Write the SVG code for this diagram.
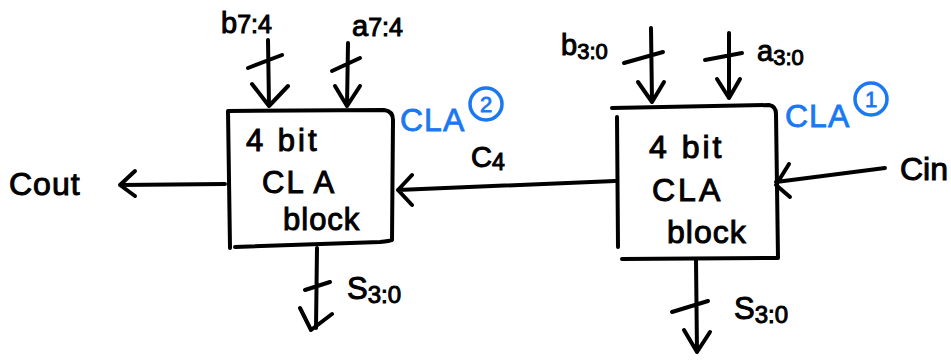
<svg xmlns="http://www.w3.org/2000/svg" width="951" height="360" viewBox="0 0 951 360">
<style>
.ln{fill:none;stroke:#000;stroke-width:4;stroke-linecap:round;stroke-linejoin:round}
.t{font-family:"Liberation Sans","DejaVu Sans",sans-serif;fill:#000;stroke:#000;stroke-width:1}
.b{font-family:"Liberation Sans","DejaVu Sans",sans-serif;fill:#1a78f2;stroke:#1a78f2;stroke-width:0.8}
.bc{fill:none;stroke:#1a78f2;stroke-width:3.5}
</style>
<rect width="951" height="360" fill="#fff"/>
<g id="cla2">
<path class="ln" d="M228,111 L384,110 Q393,111 393,120 L392,240 Q390,241 380,242 L235,247 M228,111 L230,248"/>
<text class="t" x="246" y="151" font-size="31" letter-spacing="3">4 bit</text>
<text class="t" x="262" y="193" font-size="31" letter-spacing="2">CL A</text>
<text class="t" x="283" y="230" font-size="31" letter-spacing="1">block</text>
<text class="b" x="400" y="131" font-size="32" letter-spacing="1">CLA</text>
<circle class="bc" cx="486" cy="104" r="16"/>
<text class="b" x="486" y="112" font-size="22" text-anchor="middle">2</text>
</g>
<g id="cla1">
<path class="ln" d="M612,108 L769,105 Q776,106 776,114 L778,258 L622,259 M617,117 L618,247"/>
<text class="t" x="649" y="158" font-size="32" letter-spacing="3">4 bit</text>
<text class="t" x="652" y="201" font-size="32" letter-spacing="3">CLA</text>
<text class="t" x="667" y="243" font-size="32" letter-spacing="1">block</text>
<text class="b" x="785" y="127" font-size="32" letter-spacing="1">CLA</text>
<circle class="bc" cx="871" cy="99" r="16"/>
<text class="b" x="871" y="107" font-size="22" text-anchor="middle">1</text>
</g>
<g id="labels">
<text class="t" x="221" y="33" font-size="29">b<tspan font-size="25">7:4</tspan></text>
<text class="t" x="352" y="36" font-size="29">a<tspan font-size="25">7:4</tspan></text>
<text class="t" x="561" y="55" font-size="29">b<tspan font-size="22" dy="4">3:0</tspan></text>
<text class="t" x="757" y="61" font-size="29">a<tspan font-size="22" dy="4">3:0</tspan></text>
<text class="t" x="9" y="195" font-size="32" letter-spacing="1">Cout</text>
<text class="t" x="471" y="167" font-size="29">C<tspan font-size="23" dy="3">4</tspan></text>
<text class="t" x="900" y="180" font-size="32">Cin</text>
<text class="t" x="347" y="299" font-size="31">S<tspan font-size="24" dy="4">3:0</tspan></text>
<text class="t" x="734" y="319" font-size="31">S<tspan font-size="24" dy="4">3:0</tspan></text>
</g>
<g id="connectors">
<path class="ln" d="M268,40 L269,106 M252,84 L269,106 L288,86 M248,68 L282,55"/>
<path class="ln" d="M348,43 L347,106 M335,86 L347,106 L360,86 M332,71 L360,58"/>
<path class="ln" d="M651,28 L652,102 M638,82 L652,102 L664,82 M624,63 L663,52"/>
<path class="ln" d="M729,33 L729,98 M717,79 L729,98 L740,79 M705,60 L742,53"/>
<path class="ln" d="M225,184 L120,185 M135,171 L120,185 L135,196"/>
<path class="ln" d="M615,181 L398,190 M412,175 L398,190 L412,205"/>
<path class="ln" d="M885,168 L776,182 M789,164 L776,185 L790,197"/>
<path class="ln" d="M317,248 L316,328 M305,290 L330,282 M300,308 L311,330 L332,314"/>
<path class="ln" d="M696,260 L697,352 M672,312 L708,301 M684,330 L697,352 L710,332"/>
</g>
</svg>
